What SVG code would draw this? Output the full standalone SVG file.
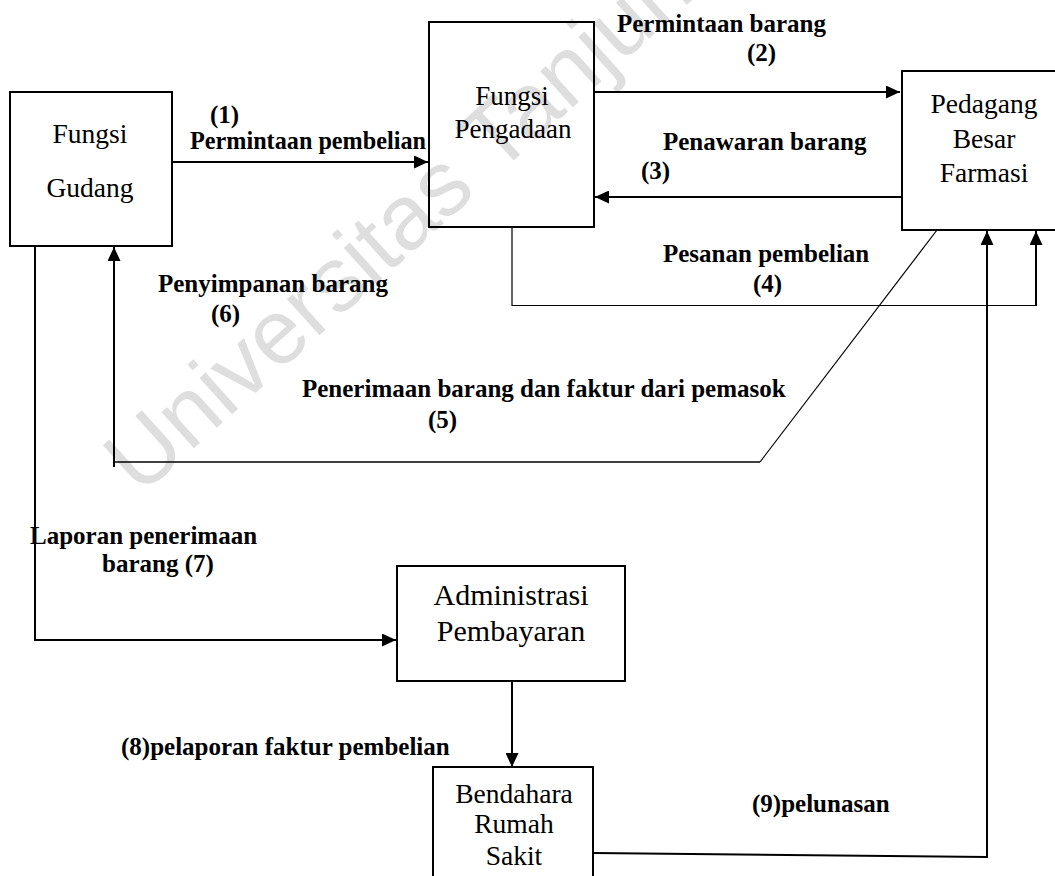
<svg xmlns="http://www.w3.org/2000/svg" width="1055" height="876" viewBox="0 0 1055 876">
<style>
.box{fill:none;stroke:#000;stroke-width:2}
.nt{font-family:"Liberation Serif","Times New Roman",serif;font-size:27.5px;fill:#000;text-anchor:middle}
.lb{font-family:"Liberation Serif","Times New Roman",serif;font-size:25px;font-weight:bold;fill:#000}
.ln{fill:none;stroke:#000;stroke-width:2}
.thin{fill:none;stroke:#000;stroke-width:1.2}
.wm{font-family:"Liberation Sans",Arial,sans-serif;font-size:92px;fill:#dedede}
</style>
<defs>
<marker id="ah" markerUnits="userSpaceOnUse" markerWidth="14" markerHeight="13" refX="14" refY="6.5" orient="auto">
<path d="M0,0 L14,6.5 L0,13 z" fill="#000"/>
</marker>
</defs>
<rect x="0" y="0" width="1055" height="876" fill="#fff"/>
<text class="wm" transform="translate(140,497) rotate(-42)">Universitas Tanjungpura</text>

<g id="connectors">
<line class="ln" x1="173" y1="162" x2="428" y2="162" marker-end="url(#ah)"/>
<line class="ln" x1="594" y1="92" x2="900" y2="92" marker-end="url(#ah)"/>
<line class="ln" x1="902" y1="197" x2="595" y2="197" marker-end="url(#ah)"/>
<polyline class="thin" points="512,227 512,305.5 1036,305.5"/>
<line class="ln" x1="1036" y1="306" x2="1036" y2="231" marker-end="url(#ah)"/>
<line class="thin" x1="937" y1="230" x2="760" y2="462"/>
<line class="ln" x1="760" y1="462" x2="113" y2="462" style="stroke-width:1.5"/>
<line class="ln" x1="114" y1="467" x2="114" y2="247" marker-end="url(#ah)"/>
<polyline class="ln" points="35,246 35,640 396,640" marker-end="url(#ah)"/>
<line class="ln" x1="512" y1="681" x2="512" y2="767" marker-end="url(#ah)"/>
<polyline class="ln" points="594,853 987,857 987,231" marker-end="url(#ah)"/>

<text class="lb" x="210" y="123">(1)</text>
<text class="lb" x="190" y="149" textLength="236" lengthAdjust="spacingAndGlyphs">Permintaan pembelian</text>
<text class="lb" x="617" y="32">Permintaan barang</text>
<text class="lb" x="747" y="61">(2)</text>
<text class="lb" x="663" y="150">Penawaran barang</text>
<text class="lb" x="641" y="179">(3)</text>
<text class="lb" x="663" y="262">Pesanan pembelian</text>
<text class="lb" x="753" y="292">(4)</text>
<text class="lb" x="158" y="292">Penyimpanan barang</text>
<text class="lb" x="211" y="322">(6)</text>
<text class="lb" x="302" y="397">Penerimaan barang dan faktur dari pemasok</text>
<text class="lb" x="428" y="428">(5)</text>
<text class="lb" x="30" y="544">Laporan penerimaan</text>
<text class="lb" x="102" y="572">barang (7)</text>
<text class="lb" x="121" y="755">(8)pelaporan faktur pembelian</text>
<text class="lb" x="752" y="812">(9)pelunasan</text>
</g>

<g id="fungsi-gudang">
<rect class="box" x="10" y="92" width="162" height="154"/>
<text class="nt" x="90" y="143">Fungsi</text>
<text class="nt" x="90" y="197">Gudang</text>
</g>

<g id="fungsi-pengadaan">
<rect class="box" x="429" y="22" width="165" height="205"/>
<text class="nt" x="512" y="105" style="font-size:27px">Fungsi</text>
<text class="nt" x="513" y="138" style="font-size:27px">Pengadaan</text>
</g>

<g id="pedagang-besar-farmasi">
<rect class="box" x="902" y="71" width="170" height="159"/>
<text class="nt" x="984" y="113">Pedagang</text>
<text class="nt" x="984" y="148">Besar</text>
<text class="nt" x="984" y="182">Farmasi</text>
</g>

<g id="administrasi-pembayaran">
<rect class="box" x="397" y="566" width="228" height="115"/>
<text class="nt" x="511" y="605" style="font-size:30px">Administrasi</text>
<text class="nt" x="511" y="641" style="font-size:30px">Pembayaran</text>
</g>

<g id="bendahara-rumah-sakit">
<rect class="box" x="433" y="767" width="160" height="130"/>
<text class="nt" x="514" y="803">Bendahara</text>
<text class="nt" x="514" y="833">Rumah</text>
<text class="nt" x="514" y="865">Sakit</text>
</g>
</svg>
